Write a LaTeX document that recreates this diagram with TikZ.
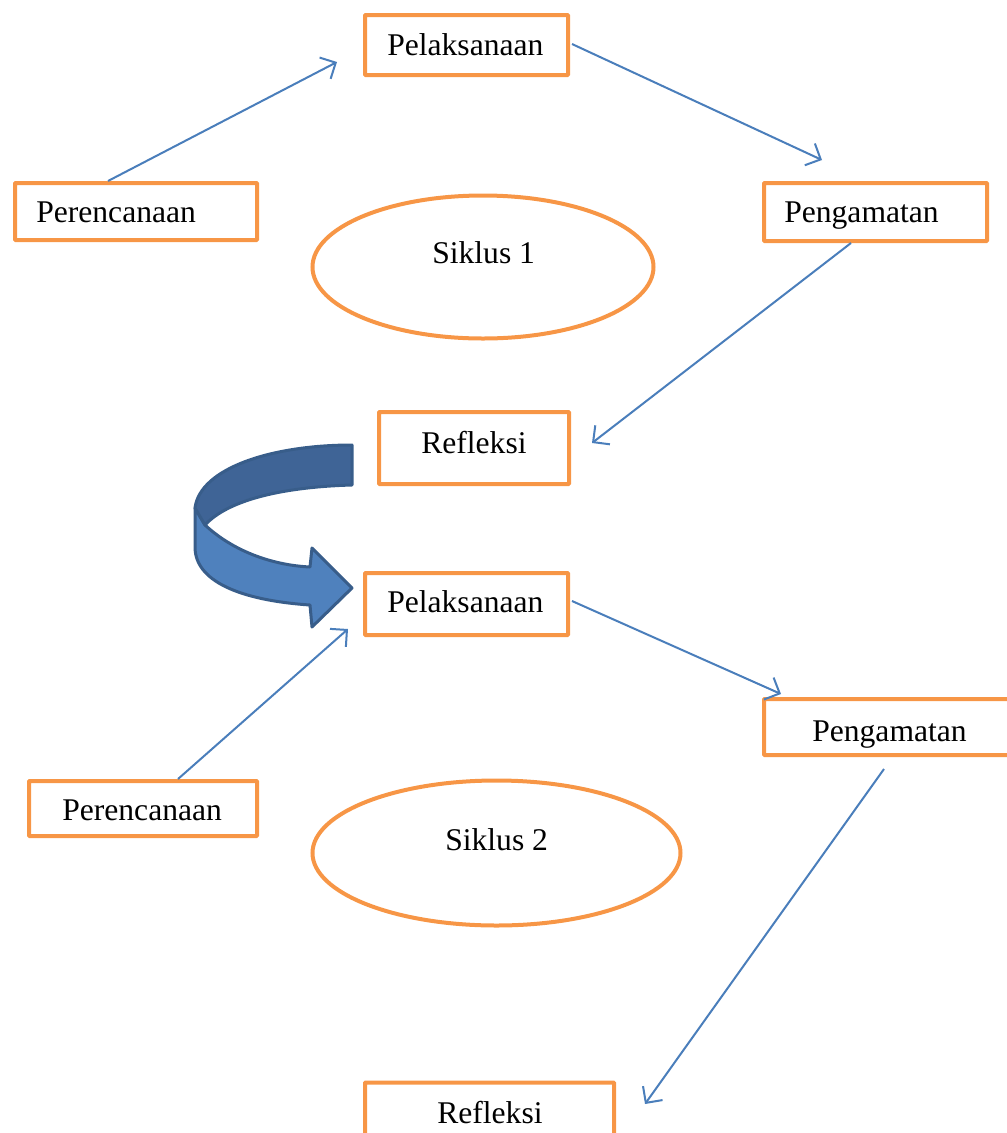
\documentclass[tikz,border=0pt]{standalone}
\usepackage{fontspec}
\setmainfont{Liberation Serif}
\usetikzlibrary{arrows.meta,shapes.geometric}
\definecolor{boxorange}{HTML}{F79646}
\definecolor{linkblue}{HTML}{4A7EBB}
\definecolor{arrdark}{HTML}{3F6496}
\definecolor{arrlight}{HTML}{4F81BD}
\definecolor{arredge}{HTML}{385D8A}
\begin{document}
\begin{tikzpicture}[x=0.75pt,y=-0.75pt,
  box/.style={draw=boxorange,line width=3pt,rectangle,inner sep=0pt,rounded corners=0.5pt},
  oval/.style={draw=boxorange,line width=3pt,ellipse,inner sep=0pt},
  lbl/.style={anchor=base west,inner sep=0pt,font=\fontsize{23.7}{28}\selectfont},
  link/.style={draw=linkblue,line width=1.5pt,-{Straight Barb[length=9pt,width=18pt]}},
  bigarrow/.style={draw=arredge,line width=2.25pt,line join=round}]
\useasboundingbox (0,0) rectangle (1007,1133);
\clip (0,0) rectangle (1007,1133);

% boxes
\node[box,minimum width=152.25pt,minimum height=45pt] (pel1) at (466.5,45) {};
\node[box,minimum width=181.5pt,minimum height=42.75pt] (per1) at (136,211.5) {};
\node[box,minimum width=167.25pt,minimum height=43.5pt] (pen1) at (875.5,212) {};
\node[oval,minimum width=255.75pt,minimum height=107.25pt] (sik1) at (483,267) {};
\node[box,minimum width=142.5pt,minimum height=54pt] (ref1) at (474,448) {};
\node[box,minimum width=152.25pt,minimum height=46.5pt] (pel2) at (466.5,604) {};
\node[box,minimum width=192pt,minimum height=42pt] (pen2) at (892,727) {};
\node[box,minimum width=171pt,minimum height=41.25pt] (per2) at (143,808.5) {};
\node[oval,minimum width=276pt,minimum height=108.75pt] (sik2) at (496.5,853) {};
\node[box,minimum width=186.75pt,minimum height=57.75pt] (ref2) at (489.5,1121) {};

% labels
\node[lbl] (tpel1) at (387,55) {Pelaksanaan};
\node[lbl] (tper1) at (36,222) {Perencanaan};
\node[lbl] (tpen1) at (784,222) {Pengamatan};
\node[lbl] (tsik1) at (432,263) {Siklus 1};
\node[lbl] (tref1) at (421,453) {Refleksi};
\node[lbl] (tpel2) at (387,612) {Pelaksanaan};
\node[lbl] (tpen2) at (812,741) {Pengamatan};
\node[lbl] (tper2) at (62,820) {Perencanaan};
\node[lbl] (tsik2) at (445,850) {Siklus 2};
\node[lbl] (tref2) at (437,1123) {Refleksi};

% connector end points
\coordinate (a1s) at (108,181);
\coordinate (a1e) at (337,62);
\coordinate (a2s) at (572,44);
\coordinate (a2e) at (822,160);
\coordinate (a3s) at (851,243);
\coordinate (a3e) at (592,443);
\coordinate (a4s) at (178,779);
\coordinate (a4e) at (348,629);
\coordinate (a5s) at (572,601);
\coordinate (a5e) at (781,694);
\coordinate (a6s) at (884,769);
\coordinate (a6e) at (645,1104);

\draw[link] (a1s) -- (a1e);
\draw[link] (a2s) -- (a2e);
\draw[link] (a3s) -- (a3e);
\draw[link] (a4s) -- (a4e);
\draw[link] (a5s) -- (a5e);
\draw[link] (a6s) -- (a6e);

% curved U-turn arrow
\filldraw[bigarrow,fill=arrlight]
  (195,508) -- (205,525) .. controls (232,550) and (270,565) .. (310,567)
  -- (312,548) -- (352,588) -- (312,627) -- (310,605)
  .. controls (250,601) and (195,585) .. (195,547) -- cycle;
\filldraw[bigarrow,fill=arrdark]
  (352,445) -- (352,485) .. controls (282,487) and (228,500) .. (205,525)
  -- (195,508) .. controls (200,468) and (272,445) .. cycle;
\end{tikzpicture}
\end{document}
